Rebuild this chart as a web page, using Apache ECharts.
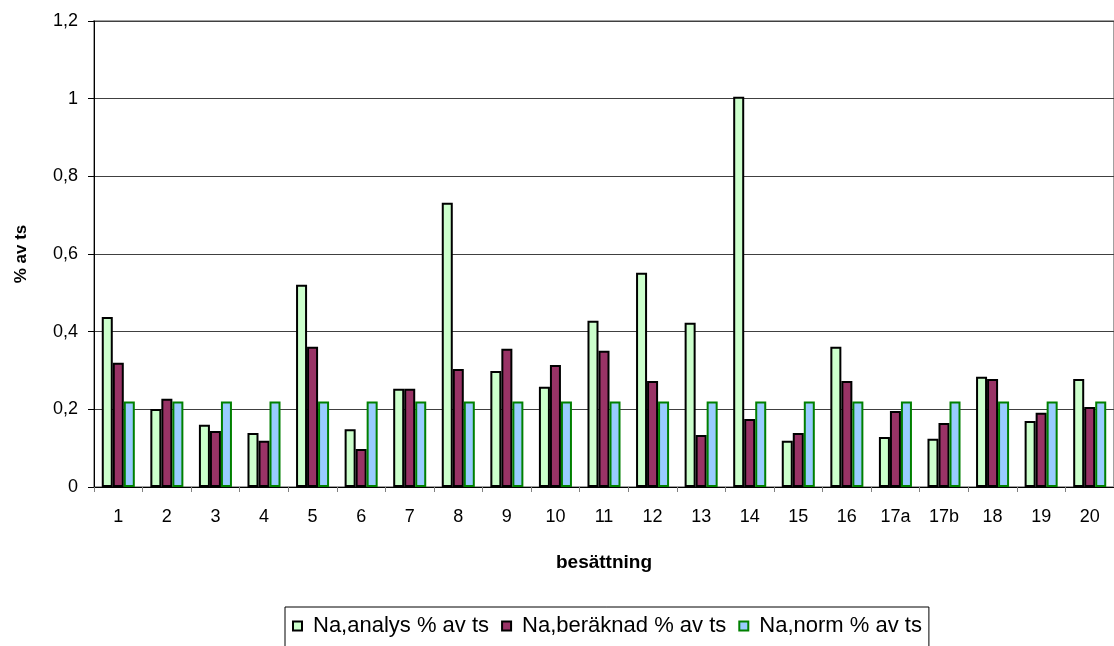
<!DOCTYPE html>
<html>
<head>
<meta charset="utf-8">
<script src="https://cdn.jsdelivr.net/npm/echarts@6/dist/echarts.min.js"></script>
<style>
html, body { margin: 0; padding: 0; background: #fff; }
#chart { width: 1114px; height: 646px; }
</style>
</head>
<body>
<div id="chart"></div>
<script>
// Sodium content per besättning, % of dry substance
const categories = ['1','2','3','4','5','6','7','8','9','10','11','12','13','14','15','16','17a','17b','18','19','20'];
const naAnalys   = [0.438,0.201,0.160,0.139,0.521,0.149,0.253,0.732,0.299,0.258,0.428,0.552,0.423,1.005,0.119,0.361,0.129,0.124,0.284,0.170,0.278];
const naBeraknad = [0.320,0.227,0.144,0.119,0.361,0.098,0.253,0.304,0.356,0.314,0.351,0.273,0.134,0.175,0.139,0.273,0.196,0.165,0.278,0.191,0.206];
const naNorm     = [0.22,0.22,0.22,0.22,0.22,0.22,0.22,0.22,0.22,0.22,0.22,0.22,0.22,0.22,0.22,0.22,0.22,0.22,0.22,0.22,0.22];
const seriesNames = ['Na,analys % av ts', 'Na,beräknad % av ts', 'Na,norm % av ts'];
const yTicks = { min: 0, max: 1.2, interval: 0.2 };

const FONT = '"Liberation Sans", Arial, sans-serif';
const chart = echarts.init(document.getElementById('chart'), null, { renderer: 'canvas' });

function barSeries(name, data, fill, border) {
  return {
    name: name,
    type: 'bar',
    data: data,
    barGap: '0%',
    barCategoryGap: '32%',
    itemStyle: { color: fill, borderColor: border, borderWidth: 2 },
    emphasis: { disabled: true },
    animation: false
  };
}

chart.setOption({
  backgroundColor: '#ffffff',
  animation: false,
  grid: {
    left: 94, right: 0, top: 21, bottom: 159,
    show: true, borderColor: '#a0a0a0', borderWidth: 2, backgroundColor: 'transparent'
  },
  legend: {
    data: seriesNames,
    left: 285, top: 607,
    orient: 'horizontal',
    itemWidth: 9, itemHeight: 9, itemGap: 12,
    icon: 'rect',
    borderColor: '#000', borderWidth: 1,
    padding: [8, 7, 40, 7],
    textStyle: { fontFamily: FONT, fontSize: 22, color: '#000', padding: [0, 0, 0, 6] },
    selectedMode: false
  },
  xAxis: {
    type: 'category',
    data: categories,
    name: 'besättning',
    nameLocation: 'middle',
    nameGap: 66,
    nameTextStyle: { fontFamily: FONT, fontSize: 19, fontWeight: 'bold', color: '#000' },
    axisLine: { lineStyle: { color: '#000', width: 1 } },
    axisTick: { show: true, alignWithLabel: false, length: 5, inside: false, lineStyle: { color: '#808080' } },
    axisLabel: { fontFamily: FONT, fontSize: 18, color: '#000', margin: 21, interval: 0 },
    splitLine: { show: false }
  },
  yAxis: {
    type: 'value',
    min: yTicks.min, max: yTicks.max, interval: yTicks.interval,
    name: '% av ts',
    nameLocation: 'middle',
    nameGap: 64,
    nameRotate: 90,
    nameTextStyle: { fontFamily: FONT, fontSize: 17, fontWeight: 'bold', color: '#000' },
    axisLine: { show: true, lineStyle: { color: '#000', width: 1 } },
    axisTick: { show: true, length: 6, lineStyle: { color: '#000' } },
    axisLabel: {
      fontFamily: FONT, fontSize: 18, color: '#000', margin: 16,
      formatter: v => String(Math.round(v * 10) / 10).replace('.', ',')
    },
    splitLine: { show: true, lineStyle: { color: '#404040', width: 1 } }
  },
  series: [
    barSeries(seriesNames[0], naAnalys, '#CCFFCC', '#000000'),
    barSeries(seriesNames[1], naBeraknad, '#993366', '#000000'),
    barSeries(seriesNames[2], naNorm, '#99CCFF', '#008000')
  ]
});
</script>
</body>
</html>
